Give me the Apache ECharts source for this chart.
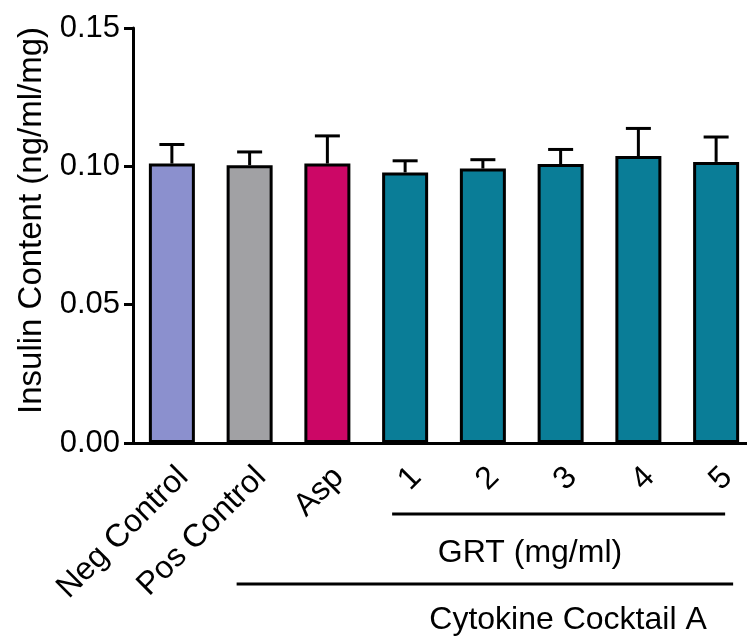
<!DOCTYPE html>
<html>
<head>
<meta charset="utf-8">
<script src="https://cdn.jsdelivr.net/npm/echarts@6/dist/echarts.min.js"></script>
<style>html,body{margin:0;padding:0;background:#fff}#c{width:747px;height:636px}</style>
</head>
<body>
<div id="c"></div>
<script>
const categories = ['Neg Control', 'Pos Control', 'Asp', '1', '2', '3', '4', '5'];
const means = [0.1010, 0.1004, 0.1010, 0.0978, 0.0992, 0.1008, 0.1037, 0.1016];
const errors = [0.0069, 0.0048, 0.0100, 0.0042, 0.0032, 0.0053, 0.0100, 0.0090];
const barColors = ['#8B90CE', '#A1A1A4', '#CC0766', '#0A7D97', '#0A7D97', '#0A7D97', '#0A7D97', '#0A7D97'];
const yTicks = [0, 0.05, 0.10, 0.15];
const yTitle = 'Insulin Content (ng/ml/mg)';
const groupInner = 'GRT (mg/ml)';
const groupOuter = 'Cytokine Cocktail A';

const FONT = '"Liberation Sans", Arial, Helvetica, sans-serif';
const chart = echarts.init(document.getElementById('c'), null, {renderer: 'canvas'});

const option = {
  animation: false,
  backgroundColor: '#ffffff',
  grid: {left: 133, top: 28, width: 622, bottom: 193, containLabel: false, outerBoundsMode: 'none'},
  xAxis: {
    type: 'category',
    data: categories,
    boundaryGap: true,
    axisLine: {lineStyle: {color: '#000', width: 3}},
    axisTick: {alignWithLabel: true, length: 9, lineStyle: {color: '#000', width: 3}},
    axisLabel: {
      interval: 0, rotate: 45, margin: 18, color: '#000',
      fontFamily: FONT, fontSize: 32, align: 'right', verticalAlign: 'top'
    },
    splitLine: {show: false}
  },
  yAxis: {
    type: 'value',
    min: yTicks[0], max: yTicks[yTicks.length - 1], interval: 0.05,
    name: yTitle,
    nameLocation: 'middle',
    nameGap: 85,
    nameTextStyle: {fontFamily: FONT, fontSize: 33, color: '#000', padding: [0, 0, 0, 30]},
    axisLine: {show: true, lineStyle: {color: '#000', width: 3}},
    axisTick: {show: true, length: 9, lineStyle: {color: '#000', width: 3}},
    axisLabel: {margin: 13, color: '#000', fontFamily: FONT, fontSize: 31,
      formatter: v => v.toFixed(2)},
    splitLine: {show: false}
  },
  series: [
    {
      type: 'bar',
      barWidth: 46,
      data: means.map((v, i) => ({value: v, itemStyle: {color: barColors[i]}})),
      itemStyle: {borderColor: '#000', borderWidth: 3},
      z: 2
    },
    {
      type: 'custom',
      z: 3,
      data: means.map((m, i) => [i, m, errors[i]]),
      renderItem: function (params, api) {
        const i = api.value(0), m = api.value(1), e = api.value(2);
        const p0 = api.coord([i, m]);
        const p1 = api.coord([i, m + e]);
        const half = 12.5;
        const st = {stroke: '#000', lineWidth: 3};
        return {
          type: 'group',
          children: [
            {type: 'line', shape: {x1: p0[0], y1: p0[1], x2: p1[0], y2: p1[1]}, style: st},
            {type: 'line', shape: {x1: p1[0] - half, y1: p1[1], x2: p1[0] + half, y2: p1[1]}, style: st}
          ]
        };
      }
    }
  ]
};
chart.setOption(option);

// Group annotation brackets, positioned from the category axis
const px = c => chart.convertToPixel({xAxisIndex: 0}, c);
const x1 = px('1'), x5 = px('5'), xPos = px('Pos Control');
chart.setOption({
  graphic: [
    {type: 'line', shape: {x1: x1 - 13, y1: 514, x2: x5 + 9, y2: 514}, style: {stroke: '#000', lineWidth: 3}},
    {type: 'text', x: 530, y: 553,
      style: {text: groupInner, font: '32px ' + FONT, fill: '#000', textAlign: 'center', textVerticalAlign: 'middle'}},
    {type: 'line', shape: {x1: xPos - 13, y1: 584, x2: x5 + 17, y2: 584}, style: {stroke: '#000', lineWidth: 3}},
    {type: 'text', x: 568, y: 620,
      style: {text: groupOuter, font: '32px ' + FONT, fill: '#000', textAlign: 'center', textVerticalAlign: 'middle'}}
  ]
});
</script>
</body>
</html>
